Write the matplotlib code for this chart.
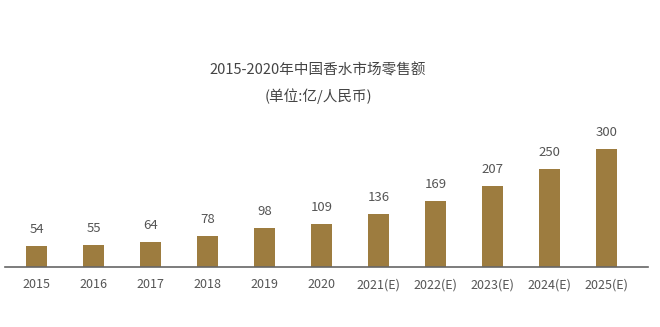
import matplotlib
matplotlib.use("Agg")
import matplotlib.pyplot as plt

plt.rcParams['font.family'] = ['Noto Sans CJK SC', 'DejaVu Sans']

years = ["2015", "2016", "2017", "2018", "2019", "2020",
         "2021(E)", "2022(E)", "2023(E)", "2024(E)", "2025(E)"]
sales = [54, 55, 64, 78, 98, 109, 136, 169, 207, 250, 300]
title = "2015-2020年中国香水市场零售额"
subtitle = "(单位:亿/人民币)"

bar_color = "#9d7c3f"
text_color = "#555555"

fig = plt.figure(figsize=(6.6, 3.27), dpi=100)
ax = fig.add_axes([0.0076, 0.1835, 0.974, 0.4086])

x = range(len(years))
ax.bar(x, sales, width=0.37, color=bar_color)
for i, v in zip(x, sales):
    ax.text(i, v + 42, str(v), ha="center", va="center", fontsize=9.5, color=text_color)

ax.set_xlim(-0.56, 10.72)
ax.set_ylim(0, 340)
ax.set_xticks(list(x))
ax.set_xticklabels(years, fontsize=9, color=text_color)
ax.tick_params(axis="x", length=0, pad=8)
ax.set_yticks([])
for s in ["top", "right", "left"]:
    ax.spines[s].set_visible(False)
ax.spines["bottom"].set_color("#666666")
ax.spines["bottom"].set_linewidth(1.2)

fig.text(318 / 660, 1 - 70 / 327, title, ha="center", va="center", fontsize=10.5, color="#444444")
fig.text(318 / 660, 1 - 96 / 327, subtitle, ha="center", va="center", fontsize=10.5, color="#444444")

fig.savefig("out.png", dpi=100)
